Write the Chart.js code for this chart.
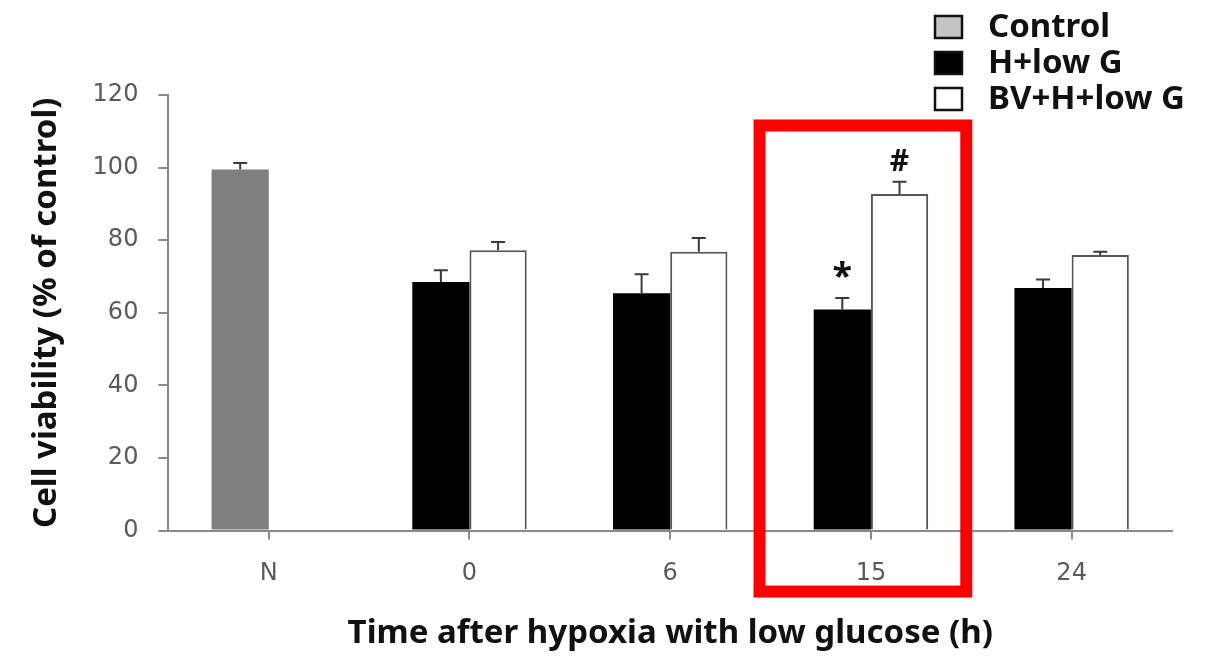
<!DOCTYPE html>
<html>
<head>
<meta charset="utf-8">
<script src="https://cdn.jsdelivr.net/npm/chart.js@4"></script>
<style>
  html, body { margin: 0; padding: 0; background: #fff; }
  #wrap { width: 1217px; height: 663px; }
</style>
</head>
<body>
<div id="wrap"><canvas id="viability"></canvas></div>
<script>
// categories and values
const timeLabels = ['N', '0', '6', '15', '24'];
const controlValues = [99.5, null, null, null, null];
const controlErrors = [1.8, null, null, null, null];
const hypoxiaValues = [null, 68.5, 65.4, 60.9, 66.8];
const hypoxiaErrors = [null, 3.2, 5.2, 3.2, 2.4];
const bvValues = [null, 77.2, 76.8, 92.7, 75.9];
const bvErrors = [null, 2.3, 3.8, 3.4, 0.9];
const hypoxiaMarks = ['', '', '', '*', ''];
const bvMarks = ['', '', '', '#', ''];
const highlightIndex = 3;

const titleFont = { family: 'Noto Sans', size: 33, weight: 'bold' };
const tickFont = { family: 'DejaVu Sans', size: 24 };

// upper error bars + significance marks
const errorBars = {
    id: 'errorBars',
    afterDatasetsDraw(chart) {
        const ctx = chart.ctx;
        const y = chart.scales.y;
        chart.data.datasets.forEach((ds, i) => {
            const meta = chart.getDatasetMeta(i);
            meta.data.forEach((bar, j) => {
                const v = ds.data[j];
                if (v == null) return;
                const err = ds.errors[j];
                const top = y.getPixelForValue(v + err);
                ctx.save();
                ctx.strokeStyle = '#3a3a3a';
                ctx.lineWidth = 2;
                ctx.beginPath();
                ctx.moveTo(bar.x, bar.y);
                ctx.lineTo(bar.x, top);
                ctx.moveTo(bar.x - 7, top);
                ctx.lineTo(bar.x + 7, top);
                ctx.stroke();
                const mark = ds.marks[j];
                if (mark) {
                    ctx.fillStyle = '#111';
                    ctx.font = mark === '*' ? 'bold 36px "Noto Sans"' : 'bold 30px "Noto Sans"';
                    ctx.textAlign = 'center';
                    ctx.textBaseline = 'middle';
                    ctx.fillText(mark, bar.x, top - (mark === '*' ? 20 : 19));
                }
                ctx.restore();
            });
        });
    }
};

// red box around the 15 h group and legend in the top right corner
const overlay = {
    id: 'overlay',
    afterDraw(chart) {
        const ctx = chart.ctx;
        const x = chart.scales.x;
        const y = chart.scales.y;
        const cx = x.getPixelForValue(highlightIndex);
        const cw = x.width / timeLabels.length;
        ctx.save();
        ctx.strokeStyle = '#ff0000';
        ctx.lineWidth = 12;
        ctx.strokeRect(cx - cw * 0.555, y.getPixelForValue(111.6),
            cw * 1.03, y.getPixelForValue(-16.8) - y.getPixelForValue(111.6));

        const rows = [27, 63, 99];
        ctx.font = 'bold 33px "Noto Sans"';
        ctx.textBaseline = 'middle';
        chart.data.datasets.forEach((ds, i) => {
            const ry = rows[i];
            ctx.fillStyle = ds.legendFill;
            ctx.fillRect(935, ry - 11, 27, 22);
            ctx.strokeStyle = '#111';
            ctx.lineWidth = 2.5;
            ctx.strokeRect(935, ry - 11, 27, 22);
            ctx.fillStyle = '#111';
            ctx.fillText(ds.label, 988, ry + 1);
        });
        ctx.restore();
    }
};

new Chart(document.getElementById('viability'), {
    type: 'bar',
    data: {
        labels: timeLabels,
        datasets: [{
            label: 'Control',
            data: controlValues,
            errors: controlErrors,
            marks: ['', '', '', '', ''],
            stack: 'left',
            backgroundColor: '#7f7f7f',
            legendFill: '#c4c4c4',
            borderWidth: 0
        }, {
            label: 'H+low G',
            data: hypoxiaValues,
            errors: hypoxiaErrors,
            marks: hypoxiaMarks,
            stack: 'left',
            backgroundColor: '#000',
            legendFill: '#000',
            borderWidth: 0
        }, {
            label: 'BV+H+low G',
            data: bvValues,
            errors: bvErrors,
            marks: bvMarks,
            stack: 'right',
            backgroundColor: '#fff',
            borderColor: '#555',
            borderWidth: 2,
            legendFill: '#fff'
        }]
    },
    options: {
        responsive: true,
        maintainAspectRatio: false,
        animation: false,
        categoryPercentage: 0.57,
        barPercentage: 1.0,
        layout: { padding: { left: 27, right: 45, top: 95, bottom: 8 } },
        plugins: {
            legend: { display: false },
            tooltip: { enabled: false }
        },
        scales: {
            x: {
                stacked: true,
                border: { color: '#8a8a8a', width: 2 },
                grid: { offset: false, drawOnChartArea: false, tickLength: 9, color: '#8a8a8a', lineWidth: 2 },
                ticks: { color: '#5a5a5a', padding: 20, font: tickFont },
                title: {
                    display: true,
                    text: 'Time after hypoxia with low glucose (h)',
                    color: '#111',
                    font: titleFont,
                    padding: { top: 5, bottom: 2 }
                }
            },
            y: {
                stacked: true,
                min: 0,
                max: 120,
                border: { color: '#8a8a8a', width: 2 },
                grid: { drawOnChartArea: false, tickLength: 10, color: '#8a8a8a', lineWidth: 2 },
                ticks: { stepSize: 20, color: '#5a5a5a', padding: 20, font: tickFont },
                title: {
                    display: true,
                    text: 'Cell viability (% of control)',
                    color: '#111',
                    font: titleFont,
                    padding: { top: 0, bottom: 6 }
                }
            }
        }
    },
    plugins: [errorBars, overlay]
});
</script>
</body>
</html>
